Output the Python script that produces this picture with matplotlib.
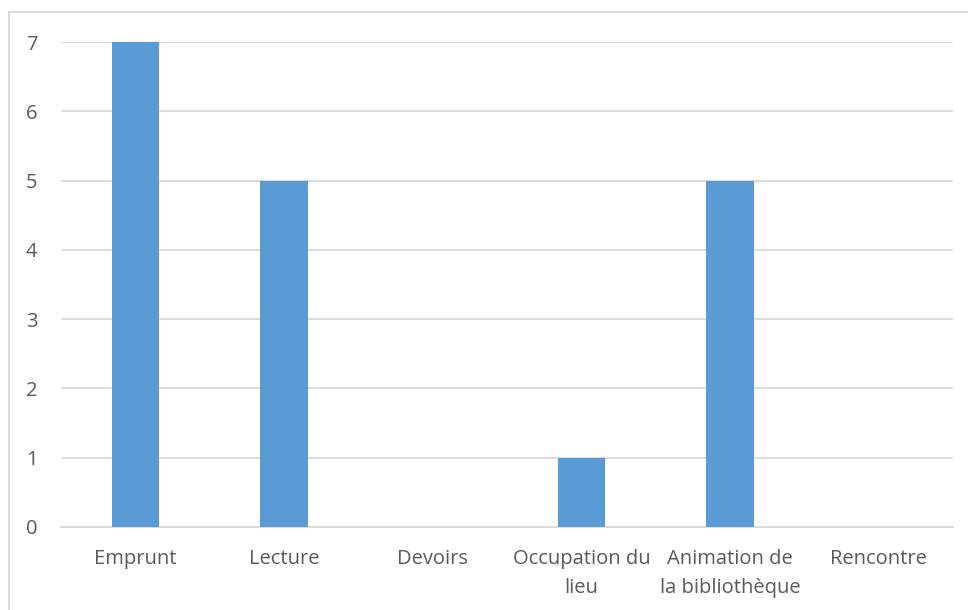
import matplotlib
matplotlib.use('Agg')
import matplotlib.pyplot as plt
from matplotlib.patches import Rectangle

categories = ['Emprunt', 'Lecture', 'Devoirs', 'Occupation du\nlieu',
              'Animation de\nla bibliothèque', 'Rencontre']
values = [7, 5, 0, 1, 5, 0]
yticks = [0, 1, 2, 3, 4, 5, 6, 7]

W, H = 968, 610
fig = plt.figure(figsize=(W / 100, H / 100), dpi=100)
plt.rcParams['font.family'] = ['Open Sans', 'DejaVu Sans']

# plot area in pixels: x 61..953, y 42..527
ax = fig.add_axes([61 / W, 1 - 527 / H, (953 - 61) / W, (527 - 42) / H])

x = range(len(categories))
ax.bar(x, values, width=0.32, color='#5B9BD5', zorder=3)

ax.set_xlim(-0.5, len(categories) - 0.5)
ax.set_ylim(0, 7)
ax.set_yticks(yticks)
ax.set_xticks(list(x))
ax.set_xticklabels(categories, linespacing=1.6)
ax.grid(axis='y', color='#D9D9D9', linewidth=1.3, zorder=0)
for s in ['top', 'right', 'left']:
    ax.spines[s].set_visible(False)
ax.spines['bottom'].set_color('#D9D9D9')
ax.spines['bottom'].set_linewidth(1.3)
ax.tick_params(axis='both', length=0, labelcolor='#595959', labelsize=14.5)
ax.tick_params(axis='x', pad=16)
ax.tick_params(axis='y', pad=17)

# outer chart border
fig.patches.append(Rectangle((9 / W, -0.05), 1.1, 1 - 12 / H + 0.05,
                             transform=fig.transFigure, fill=False,
                             edgecolor='#D9D9D9', linewidth=1.3))

fig.savefig('out.png', dpi=100)
